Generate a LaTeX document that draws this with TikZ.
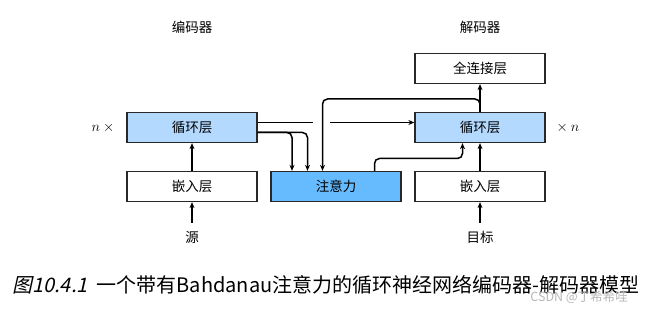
\documentclass[tikz,border=0pt]{standalone}
\usepackage{fontspec}
\setmainfont{Noto Sans CJK SC}
\newfontfamily\capslant[FakeSlant=0.22]{Noto Sans CJK SC}
\usetikzlibrary{arrows.meta}
\definecolor{rnnblue}{RGB}{179,217,255}
\definecolor{attblue}{RGB}{102,187,255}
\definecolor{edge}{RGB}{40,40,40}
\begin{document}
\begin{tikzpicture}[x=1pt,y=-1pt,
  layerbox/.style={draw=edge,line width=1.3pt,minimum width=130pt,minimum height=30pt,inner sep=0pt,font=\fontsize{13.5}{15}\selectfont},
  rnnbox/.style={layerbox,fill=rnnblue},
  attbox/.style={layerbox,fill=attblue},
  plainbox/.style={layerbox,fill=white},
  lbl/.style={font=\fontsize{13.5}{15}\selectfont,inner sep=1pt},
  conn/.style={line width=1.5pt,draw=black,-{Stealth[length=6pt,width=5pt]},rounded corners=5pt},
  line/.style={line width=1.5pt,draw=black}]
\useasboundingbox[fill=white] (0,0) rectangle (645,312);
% boxes
\node[rnnbox] (encR) at (192,127.5) {循环层};
\node[plainbox] (encE) at (192,186.5) {嵌入层};
\node[attbox] (att) at (336,186.5) {注意力};
\node[rnnbox] (decR) at (480,127.5) {循环层};
\node[plainbox] (decE) at (480,186.5) {嵌入层};
\node[plainbox] (fc) at (480,68.5) {全连接层};
% labels
\node[lbl] (encT) at (192,27) {编码器};
\node[lbl] (decT) at (480,27) {解码器};
\node[lbl] (nl) at (103,128) {$n\ \times$};
\node[lbl] (nr) at (568,128) {$\times\ n$};
\node[lbl] (src) at (192,237.5) {源};
\node[lbl] (tgt) at (480,237.5) {目标};
% coordinates
\coordinate (gapL) at (313,122.5);
\coordinate (gapR) at (330,122.5);
% connectors
\draw[conn] (src.north |- 0,223) -- (encE.south);
\draw[conn] (tgt.north |- 0,223) -- (decE.south);
\draw[conn] (encE) -- (encR);
\draw[conn] (decE) -- (decR);
\draw[conn] (decR) -- (fc);
\draw[line] (encR.east |- gapL) -- (gapL);
\draw[conn] (gapR) -- (decR.west |- gapR);
\draw[conn] (encR.east |- 0,132.5) -- (292,132.5) -- (att.north -| 292,0);
\draw[conn] (encR.east |- 0,132.5) -- (307.5,132.5) -- (att.north -| 307.5,0);
\draw[conn] (decR.north) -- (480,99) -- (322.5,99) -- (att.north -| 322.5,0);
\draw[conn] (att.north -| 374.5,0) -- (374.5,158.5) -- (462.5,158.5) -- (decR.south -| 462.5,0);
% caption
\node[font=\fontsize{20}{22}\selectfont,anchor=west,inner sep=0pt] (cap) at (12,285) {{\capslant 图10.4.1}\hspace{9pt}一个带有Bahdanau注意力的循环神经网络编码器-解码器模型};
\node[font=\fontsize{12.5}{14}\selectfont,text=black!28,anchor=east,inner sep=0pt] (wm) at (628,297) {CSDN @丁希希哇};
\end{tikzpicture}
\end{document}
